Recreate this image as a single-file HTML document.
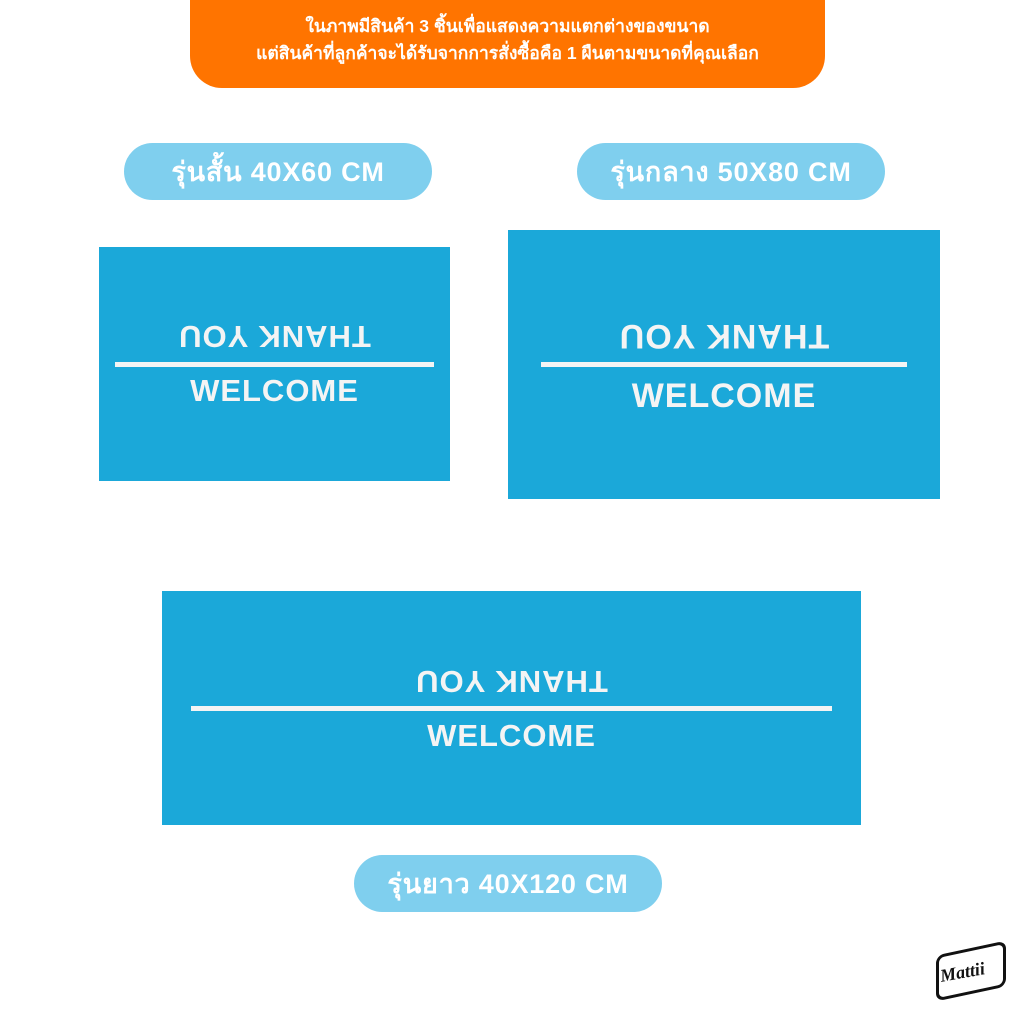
<!DOCTYPE html>
<html><head><meta charset="utf-8"><style>
body{margin:0;width:1024px;height:1024px;background:#fff;position:relative;overflow:hidden;font-family:"Liberation Sans","DejaVu Sans",sans-serif}
.abs{position:absolute}
.top{left:190px;top:-10px;width:635px;height:98px;background:#ff7400;border-radius:0 0 32px 32px;color:#fff;text-align:center;font-size:17.5px;font-weight:bold;line-height:27px;box-sizing:border-box;padding-top:23px}
.pill{background:#7fcfee;border-radius:29px;color:#fff;font-weight:bold;font-size:27px;letter-spacing:0.8px;display:flex;align-items:center;justify-content:center;height:57px;width:308px}
.mat{background:#1ba8d9;}
.line{background:#f4f4f4;height:5px}
.t{color:#f4f4f4;font-weight:bold;text-align:center;white-space:nowrap;letter-spacing:1px}
.up{transform:rotate(180deg)}
</style></head><body>
<div class="abs top">ในภาพมีสินค้า 3 ชิ้นเพื่อแสดงความแตกต่างของขนาด<br>แต่สินค้าที่ลูกค้าจะได้รับจากการสั่งซื้อคือ 1 ผืนตามขนาดที่คุณเลือก</div>
<div class="abs pill" style="left:124px;top:143px">รุ่นสั้น 40X60 CM</div>
<div class="abs pill" style="left:577px;top:143px">รุ่นกลาง 50X80 CM</div>
<div class="abs pill" style="left:354px;top:855px">รุ่นยาว 40X120 CM</div>

<div class="abs mat" style="left:99px;top:247px;width:351px;height:234px"></div>
<div class="abs line" style="left:115px;top:362px;width:319px"></div>
<div class="abs t up" style="left:99px;top:318px;width:351px;font-size:31px">THANK YOU</div>
<div class="abs t" style="left:99px;top:373px;width:351px;font-size:31px">WELCOME</div>

<div class="abs mat" style="left:508px;top:230px;width:432px;height:269px"></div>
<div class="abs line" style="left:541px;top:362px;width:366px"></div>
<div class="abs t up" style="left:508px;top:316px;width:432px;font-size:34px">THANK YOU</div>
<div class="abs t" style="left:508px;top:377px;width:432px;font-size:34px">WELCOME</div>

<div class="abs mat" style="left:162px;top:591px;width:699px;height:234px"></div>
<div class="abs line" style="left:191px;top:706px;width:641px"></div>
<div class="abs t up" style="left:162px;top:663px;width:699px;font-size:31px">THANK YOU</div>
<div class="abs t" style="left:162px;top:718px;width:699px;font-size:31px">WELCOME</div>

<div class="abs" style="left:936px;top:948px;width:64px;height:40px;border:3px solid #111;border-radius:8px;transform:skewY(-12deg)"></div>
<div class="abs" style="left:940px;top:962px;font-family:'Liberation Serif',serif;font-style:italic;font-weight:bold;font-size:18px;color:#111;transform:rotate(-10deg)">Mattii</div>
</body></html>
